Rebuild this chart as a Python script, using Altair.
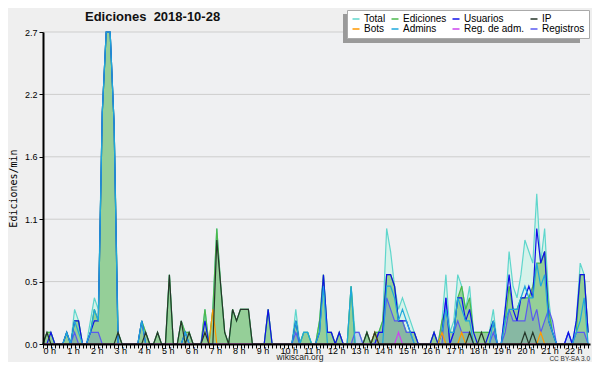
import altair as alt
import pandas as pd

# Edits per 10-minute slot (slot 0 = 0h00 ... slot 138 = 23h00); y shows edits/min
series_names = ["Total", "Ediciones", "Usuarios", "IP", "Bots", "Admins", "Reg. de adm.", "Registros"]
series_colors = ["#5fd6cc", "#4cb84c", "#1010e8", "#26362a", "#ff9900", "#1ea8dc", "#cc44ee", "#5a5af0"]

total = [0,1,1,0,0,0,1,0,3,2,0,0,  2,4,3,20,27,27,19,1,0,0,0,0,  0,2,1,0,0,1,0,0,6,0,0,2,
         1,1,0,0,0,3,0,3,10,5,1,0,  3,2,3,3,3,0,0,0,0,3,0,0,  0,0,0,0,3,0,1,1,0,0,2,6,
         1,1,0,1,0,0,5,1,1,0,1,0,  1,1,2,10,8,5,3,4,3,2,1,0,  0,0,0,1,0,2,6,1,2,6,5,3,
         5,1,1,1,1,1,3,0,0,3,8,5,  4,6,9,8,7,13,7,10,4,1,0,0,  0,1,0,2,7,6,1]
ediciones = [0,1,1,0,0,0,1,0,2,2,0,0,  1,3,2,20,27,27,19,1,0,0,0,0,  0,2,1,0,0,1,0,0,6,0,0,2,
             1,1,0,0,0,3,0,3,10,5,1,0,  3,2,3,3,3,0,0,0,0,3,0,0,  0,0,0,0,2,0,1,1,0,0,2,6,
             1,1,0,1,0,0,5,0,0,0,1,0,  1,1,2,6,6,5,2,2,1,1,1,0,  0,0,0,1,0,2,3,1,1,4,5,3,
             4,1,1,1,1,1,2,0,0,2,5,3,  3,4,4,4,5,7,7,8,3,1,0,0,  0,0,0,1,6,6,1]
usuarios = [0,0,1,0,0,0,1,0,2,2,0,0,  1,2,2,20,27,27,19,0,0,0,0,0,  0,2,0,0,0,0,0,0,0,0,0,0,
            1,0,0,0,0,2,0,0,0,0,0,0,  0,0,0,0,0,0,0,0,0,3,0,0,  0,0,0,0,2,0,0,0,0,0,1,6,
            1,1,0,1,0,0,0,0,0,0,0,0,  0,1,1,6,6,5,2,2,2,1,1,0,  0,0,0,1,0,1,4,0,1,4,4,2,
            3,1,0,0,0,1,2,0,0,3,6,3,  2,4,4,5,4,10,7,8,2,1,0,0,  0,1,0,2,6,6,1]
ip = [0,1,0,0,0,0,0,0,0,0,0,0,  0,0,0,0,0,0,0,1,0,0,0,0,  0,0,1,0,0,1,0,0,6,0,0,2,
      0,1,0,0,0,1,0,0,9,5,1,0,  3,2,3,3,3,0,0,0,0,0,0,0,  0,0,0,0,0,0,0,0,0,0,0,0,
      0,0,0,0,0,0,0,0,0,0,1,0,  1,0,0,0,0,0,0,0,0,0,0,0,  0,0,0,0,0,0,0,0,0,0,0,0,
      1,0,0,1,0,0,0,0,0,0,0,0,  0,0,1,0,1,0,0,0,0,0,0,0,  0,0,0,0,0,0,0]
bots = [0,0,0,0,0,0,0,0,0,0,0,0,  0,0,0,0,0,0,0,0,0,0,0,0,  0,0,0,0,0,0,0,0,0,0,0,0,
        0,0,0,0,0,0,0,3,0,0,0,0,  0,0,0,0,0,0,0,0,0,0,0,0,  0,0,0,0,0,0,0,0,0,0,0,0,
        0,0,0,0,0,0,0,0,0,0,0,0,  1,0,0,0,0,0,0,0,0,0,0,0,  0,0,0,0,0,1,0,0,0,0,1,0,
        0,0,0,0,0,0,0,0,0,0,0,0,  0,0,0,0,0,0,1,0,0,0,0,0,  0,0,0,0,0,0,0]
admins = [0,0,0,0,0,0,1,0,2,1,0,0,  1,3,2,20,27,27,19,0,0,0,0,0,  0,2,0,0,0,0,0,0,0,0,0,0,
          1,0,0,0,0,0,0,0,0,0,0,0,  0,0,0,0,0,0,0,0,0,0,0,0,  0,0,0,0,2,0,1,1,0,0,1,5,
          0,0,0,0,0,0,5,0,0,0,0,0,  0,0,0,5,5,4,2,3,2,1,0,0,  0,0,0,0,0,1,3,1,1,4,3,2,
          2,0,0,0,0,0,2,0,0,2,3,3,  3,4,5,4,4,7,5,6,2,1,0,0,  0,0,0,1,2,4,0]
reg_adm = [0,0,0,0,0,0,0,0,0,0,0,0,  0,0,0,0,0,0,0,0,0,0,0,0,  0,0,0,0,0,0,0,0,0,0,0,0,
           0,0,0,0,0,0,0,0,0,0,0,0,  0,0,0,0,0,0,0,0,0,0,0,0,  0,0,0,0,0,0,0,0,0,0,0,0,
           0,0,0,0,0,0,0,0,0,0,0,0,  0,0,0,0,0,0,1,0,0,0,0,0,  0,0,0,0,0,0,0,0,0,0,0,0,
           0,0,0,0,0,0,0,0,0,0,0,0,  0,0,0,0,0,0,0,0,0,0,0,0,  0,0,0,0,0,0,0]
registros = [0,0,0,0,0,0,0,0,1,0,0,0,  1,1,1,0,0,0,0,0,0,0,0,0,  0,0,0,0,0,0,0,0,0,0,0,0,
             0,0,0,0,0,0,0,0,0,0,0,0,  0,0,0,0,0,0,0,0,0,0,0,0,  0,0,0,0,1,0,0,0,0,0,0,0,
             0,0,0,0,0,0,0,1,1,0,0,0,  0,1,1,4,3,2,2,2,1,1,0,0,  0,0,0,0,0,0,4,0,1,2,1,1,
             1,0,0,0,0,0,1,0,0,1,3,2,  2,2,2,4,2,3,1,2,3,2,0,0,  0,1,0,1,1,1,0]

grid_values = [0.54, 1.08, 1.62, 2.16, 2.7]
y_ticks = [round(k * 0.135, 4) for k in range(21)]
x_ticks = [i / 6 for i in range(139)]

counts = dict(zip(series_names, [total, ediciones, usuarios, ip, bots, admins, reg_adm, registros]))
rows = []
for name in series_names:
    for i, c in enumerate(counts[name]):
        rows.append({"serie": name, "h": i / 6, "v": c / 10})
df = pd.DataFrame(rows)

FONT = "Liberation Sans"

x_enc = alt.X("h:Q", scale=alt.Scale(domain=[0, 23.08], nice=False, zero=False),
              axis=alt.Axis(values=x_ticks, title=None, grid=False,
                            labelExpr="(round(datum.value*6) % 6 == 0 && datum.value < 22.5) ? round(datum.value) + ' h' : ''",
                            labelAlign="left", labelPadding=-2, labelOverlap=False, labelFlush=False,
                            labelFont=FONT, labelFontSize=9, labelColor="#000",
                            tickSize=4, tickColor="#000", tickWidth=1,
                            domainColor="#000", domainWidth=2, zindex=1))
y_enc = alt.Y("v:Q", scale=alt.Scale(domain=[0, 2.7], nice=False, zero=True),
              axis=alt.Axis(values=y_ticks, title="Ediciones/min", grid=False,
                            labelExpr="round(datum.value/0.135) % 4 == 0 ? format(datum.value, '.1f') : ''",
                            labelOverlap=False, labelFont=FONT, labelFontSize=9, labelColor="#000", labelPadding=2,
                            tickSize=4, tickColor="#000", domainColor="#000", domainWidth=2,
                            titleFont="DejaVu Sans Mono", titleFontSize=10, titleFontWeight="normal",
                            titleColor="#000", titlePadding=6, zindex=1))

base = alt.Chart(df)

grid = alt.Chart(pd.DataFrame({"g": grid_values})).mark_rule(color="#cdcdcd", strokeWidth=1).encode(y=alt.Y("g:Q"))

area_total = base.transform_filter(alt.datum.serie == "Total").mark_area(color="#d6f2ea", opacity=1).encode(x=x_enc, y=y_enc)
area_ed = base.transform_filter(alt.datum.serie == "Ediciones").mark_area(color="#8ac98a", opacity=0.85).encode(x=x_enc, y=y_enc)
area_reg = base.transform_filter(alt.datum.serie == "Registros").mark_area(color="#5060d0", opacity=0.2).encode(x=x_enc, y=y_enc)

color_scale = alt.Scale(domain=series_names, range=series_colors)
legend = alt.Legend(orient="none", legendX=304, legendY=-22, columns=4, direction="horizontal", title=None,
                    symbolType="stroke", symbolSize=49, symbolStrokeWidth=1.5, labelFont=FONT,
                    labelFontSize=10, labelColor="#000", fillColor="#ffffff", strokeColor="#aaaaaa",
                    padding=4, rowPadding=0, columnPadding=2, labelOffset=3)

draw_order = ["Total", "Ediciones", "Registros", "Usuarios", "Admins", "Bots", "Reg. de adm.", "IP"]
line_layers = []
for k, name in enumerate(draw_order):
    line_layers.append(
        base.transform_filter(alt.datum.serie == name).mark_line(strokeWidth=1.2).encode(
            x=x_enc, y=y_enc,
            color=alt.Color("serie:N", scale=color_scale, legend=legend if k == 0 else None)))

shadow = alt.Chart(pd.DataFrame({"a": [0]})).mark_rect(color="#9a9a9a").encode(
    x=alt.value(300), x2=alt.value(537), y=alt.value(-18), y2=alt.value(11))

title = alt.Chart(pd.DataFrame({"t": ["Ediciones\u00a0\u00a02018-10-28"]})).mark_text(
    font=FONT, fontSize=13, fontWeight="bold", color="#111", align="left", baseline="alphabetic").encode(
    x=alt.value(42), y=alt.value(-11), text="t:N")
site = alt.Chart(pd.DataFrame({"t": ["wikiscan.org"]})).mark_text(
    font=FONT, fontSize=8.5, color="#222", align="center", baseline="bottom").encode(
    x=alt.value(257), y=alt.value(330), text="t:N")
lic = alt.Chart(pd.DataFrame({"t": ["CC BY-SA 3.0"]})).mark_text(
    font=FONT, fontSize=6.5, color="#333", align="right", baseline="bottom").encode(
    x=alt.value(547), y=alt.value(330), text="t:N")

chart = alt.layer(grid, area_total, area_ed, area_reg, *line_layers, shadow, title, site, lic).properties(
    width=547, height=312,
    padding={"left": 35, "top": 24, "right": 2, "bottom": 18},
    autosize="none",
    background="#efefef",
).configure_view(stroke=None, fill="#eff0f2")

chart.save("out.html", embed_options={"renderer": "svg", "actions": False})
